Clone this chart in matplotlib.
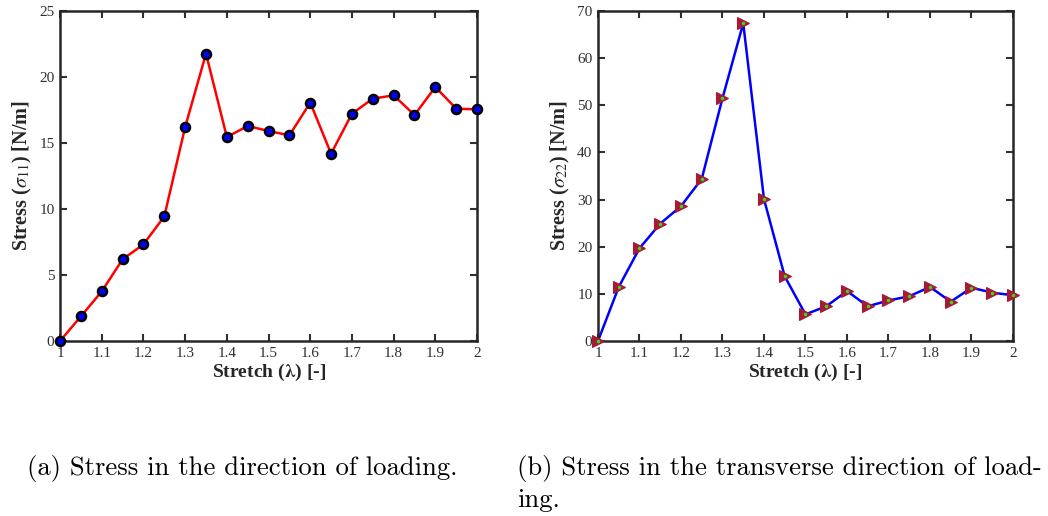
import matplotlib.pyplot as plt

stretch = [1.0, 1.05, 1.1, 1.15, 1.2, 1.25, 1.3, 1.35, 1.4, 1.45, 1.5,
           1.55, 1.6, 1.65, 1.7, 1.75, 1.8, 1.85, 1.9, 1.95, 2.0]
sigma11 = [0.0, 1.87, 3.76, 6.19, 7.32, 9.44, 16.21, 21.77, 15.45, 16.29, 15.91,
           15.58, 18.06, 14.19, 17.22, 18.36, 18.61, 17.12, 19.24, 17.60, 17.55]
sigma22 = [0.0, 11.46, 19.67, 24.9, 28.6, 34.4, 51.5, 67.4, 30.1, 13.7, 5.66,
           7.36, 10.6, 7.36, 8.6, 9.5, 11.46, 8.35, 11.3, 10.26, 9.7]
xticks = [1, 1.1, 1.2, 1.3, 1.4, 1.5, 1.6, 1.7, 1.8, 1.9, 2]
xticklabels = ['1', '1.1', '1.2', '1.3', '1.4', '1.5', '1.6', '1.7', '1.8', '1.9', '2']

plt.rcParams['font.family'] = ['Liberation Serif']
plt.rcParams['mathtext.fontset'] = 'stix'

fig = plt.figure(figsize=(10.48, 5.16), dpi=100)
ax1 = fig.add_axes([0.0573, 0.3391, 0.3979, 0.6396])
ax2 = fig.add_axes([0.5706, 0.3391, 0.3960, 0.6396])

ax1.plot(stretch, sigma11, color='red', lw=1.8, marker='o', ms=6.5,
         mfc='blue', mec='black', mew=1.8, zorder=3, clip_on=False)
ax2.plot(stretch, sigma22, color='blue', lw=1.8, zorder=2, clip_on=False)
ax2.plot(stretch, sigma22, ls='none', marker='>', ms=9, mfc='#a51a35',
         mec='#a51a35', mew=0.8, zorder=3, clip_on=False)
ax2.plot(stretch, sigma22, ls='none', marker='.', ms=3, color='#33dd22',
         zorder=4, clip_on=False)

ax1.set_ylim(0, 25)
ax1.set_yticks([0, 5, 10, 15, 20, 25])
ax2.set_ylim(0, 70)
ax2.set_yticks(range(0, 71, 10))

for ax, sub in ((ax1, '11'), (ax2, '22')):
    ax.set_xlim(1, 2)
    ax.set_xticks(xticks)
    ax.set_xticklabels(xticklabels)
    ax.tick_params(direction='in', top=True, right=True, length=5, width=1.5,
                   labelsize=11, colors='#303030', pad=4)
    for s in ax.spines.values():
        s.set_linewidth(1.8)
        s.set_color('#262626')
    ax.set_xlabel(r'Stretch ($\mathbf{\lambda}$) [-]', fontsize=14,
                  fontweight='bold', color='#262626', labelpad=2)
    ax.set_ylabel(r'Stress ($\sigma_{' + sub + r'}$) [N/m]', fontsize=14.5,
                  fontweight='bold', color='#262626', labelpad=4)

fig.text(0.0258, 0.092, '(a) Stress in the direction of loading.',
         family='cmr10', fontsize=19.2, va='center')
fig.text(0.493, 0.092, '(b) Stress in the transverse direction of load-',
         family='cmr10', fontsize=19.2, va='center')
fig.text(0.493, 0.031, 'ing.', family='cmr10', fontsize=19.2, va='center')

fig.savefig('out.png', dpi=100)
